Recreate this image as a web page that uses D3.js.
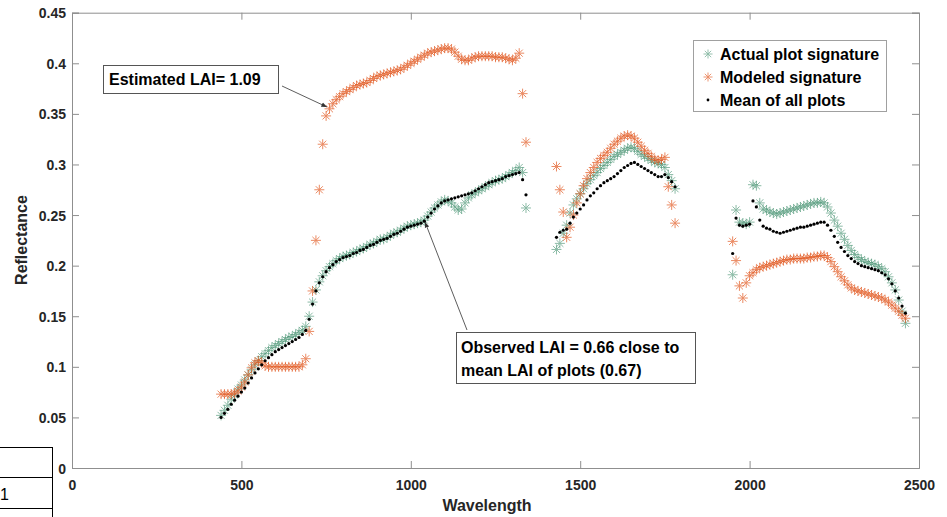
<!DOCTYPE html>
<html>
<head>
<meta charset="utf-8">
<script src="https://cdn.jsdelivr.net/npm/d3@7"></script>
<style>
  body { margin: 0; background: #fff; }
  svg { font-family: "Liberation Sans", Arial, sans-serif; }
</style>
</head>
<body>
<div id="chart"></div>
<script>
// Spectral signatures, three bands kept apart (water absorption gaps)
const wl1 = d3.range(440, 1341, 10);
const wl2 = d3.range(1430, 1781, 10);
const wl3 = d3.range(1950, 2461, 10);

const actual1 = [.052,.057,.062,.068,.072,.078,.082,.087,.092,.097,
  .102,.106,.110,.113,.116,.119,.121,.123,.125,.127,
  .129,.130,.132,.134,.136,.140,.150,.164,.176,.184,
  .190,.195,.199,.202,.205,.207,.209,.210,.211,.213,
  .214,.216,.217,.219,.221,.222,.224,.226,.226,.228,
  .230,.232,.233,.235,.237,.239,.240,.241,.242,.243,
  .245,.249,.253,.257,.260,.263,.265,.264,.262,.258,
  .255,.256,.262,.267,.270,.272,.274,.276,.278,.280,
  .282,.284,.285,.286,.288,.290,.292,.294,.297,.292,
  .257];
const modeled1 = [.073,.073,.073,.073,.074,.076,.080,.085,.092,.099,
  .104,.106,.104,.101,.100,.100,.100,.100,.100,.100,
  .100,.100,.100,.100,.102,.108,.135,.175,.225,.275,
  .320,.348,.355,.360,.364,.367,.370,.372,.374,.376,
  .378,.379,.380,.381,.383,.385,.387,.388,.389,.390,
  .391,.392,.393,.394,.396,.398,.400,.402,.404,.406,
  .408,.410,.411,.412,.413,.414,.415,.415,.414,.411,
  .407,.404,.403,.403,.405,.406,.407,.407,.407,.407,
  .407,.406,.406,.406,.405,.404,.403,.405,.410,.370,
  .322];
const mean1 = [.050,.054,.058,.063,.067,.071,.075,.079,.084,.089,
  .094,.098,.102,.106,.109,.112,.115,.117,.119,.121,
  .123,.125,.127,.129,.132,.136,.147,.162,.175,.183,
  .189,.194,.198,.201,.204,.206,.208,.209,.210,.212,
  .213,.215,.216,.218,.220,.221,.223,.225,.226,.227,
  .229,.231,.232,.234,.236,.238,.239,.240,.241,.242,
  .244,.248,.252,.256,.259,.262,.264,.265,.266,.267,
  .268,.269,.270,.271,.272,.274,.276,.278,.280,.282,
  .283,.284,.285,.286,.288,.289,.290,.291,.292,.285,
  .270];

const actual2 = [.216,.222,.232,.240,.252,.260,.266,.271,.276,.281,
  .285,.289,.292,.296,.299,.302,.305,.308,.310,.312,
  .314,.316,.317,.316,.313,.310,.308,.306,.304,.302,
  .301,.300,.297,.290,.284,.276];
const modeled2 = [.298,.275,.253,.228,.238,.250,.262,.271,.279,.286,
  .292,.297,.302,.306,.309,.312,.316,.320,.323,.326,
  .328,.329,.328,.326,.322,.318,.314,.311,.308,.305,
  .304,.305,.307,.278,.260,.242];
const mean2 = [.228,.233,.235,.236,.242,.248,.252,.256,.260,.265,
  .269,.272,.276,.279,.282,.284,.286,.288,.291,.294,
  .297,.299,.301,.302,.300,.298,.296,.294,.292,.290,
  .288,.288,.290,.287,.283,.278];

const actual3 = [.191,.255,.243,.242,.241,.243,.280,.279,.262,.256,
  .255,.253,.252,.251,.252,.253,.254,.255,.256,.257,
  .258,.259,.260,.261,.262,.262,.263,.262,.258,.252,
  .245,.239,.232,.226,.220,.215,.211,.208,.206,.204,
  .203,.202,.201,.199,.197,.194,.189,.183,.176,.166,
  .155,.143];
const modeled3 = [.224,.205,.180,.168,.183,.190,.193,.196,.198,.199,
  .200,.201,.202,.203,.204,.205,.206,.206,.207,.207,
  .207,.207,.208,.208,.209,.209,.210,.210,.208,.204,
  .199,.194,.189,.185,.181,.178,.176,.175,.174,.173,
  .172,.171,.170,.169,.168,.166,.164,.161,.158,.155,
  .151,.148];
const mean3 = [.212,.247,.240,.239,.240,.241,.264,.258,.245,.239,
  .237,.236,.234,.233,.232,.233,.234,.235,.236,.237,
  .238,.238,.239,.240,.241,.242,.243,.243,.240,.235,
  .229,.223,.218,.214,.210,.207,.204,.202,.200,.199,
  .198,.197,.196,.195,.193,.191,.187,.182,.175,.168,
  .160,.153];

const xTicks = [0, 500, 1000, 1500, 2000, 2500];
const yTicks = [0, 0.05, 0.1, 0.15, 0.2, 0.25, 0.3, 0.35, 0.4, 0.45];
const legendNames = ['Actual plot signature', 'Modeled signature', 'Mean of all plots'];

const width = 947, height = 517;
const clrGreen = '#3f8f6c', clrOrange = '#e35a22', clrAxis = '#8f8f8f', clrText = '#262626';

let svg = d3.select('#chart').append('svg')
    .attr('width', width)
    .attr('height', height);

let x = d3.scaleLinear().domain([0, 2500]).range([72, 919]);
let y = d3.scaleLinear().domain([0, 0.45]).range([468, 12.7]);

function pts(wl, vals){ return wl.map((w,i)=>({w:w, v:vals[i]})); }
let dtActual = pts(wl1,actual1).concat(pts(wl2,actual2), pts(wl3,actual3));
let dtModeled = pts(wl1,modeled1).concat(pts(wl2,modeled2), pts(wl3,modeled3));
let dtMean = pts(wl1,mean1).concat(pts(wl2,mean2), pts(wl3,mean3));

// asterisk marker like matlab '*'
function star(r){
    let a = r*0.707;
    return `M${-r},0H${r}M0,${-r}V${r}M${-a},${-a}L${a},${a}M${-a},${a}L${a},${-a}`;
}

// table fragment at the lower left corner
let tbl = svg.append('g').attr('stroke','#000').attr('stroke-width',1);
tbl.append('line').attr('x1',52.5).attr('x2',52.5).attr('y1',447).attr('y2',517);
[447.5, 477.5, 508.5].forEach(v=>{
    tbl.append('line').attr('x1',0).attr('x2',52.5).attr('y1',v).attr('y2',v);
});
svg.append('text').attr('x',0).attr('y',500).attr('font-size',16)
    .attr('fill','#000').text('1');

// box + axes
svg.append('rect').attr('x',72).attr('y',12.7).attr('width',847).attr('height',455.3)
    .attr('fill','#fff');

let gx = svg.append('g').attr('transform','translate(0,468)')
    .call(d3.axisBottom(x).tickValues(xTicks).tickSize(-7).tickPadding(12).tickFormat(d3.format('d')));
let gxt = svg.append('g').attr('transform','translate(0,12.7)')
    .call(d3.axisTop(x).tickValues(xTicks).tickSize(-7).tickFormat(''));
let gy = svg.append('g').attr('transform','translate(72,0)')
    .call(d3.axisLeft(y).tickValues(yTicks).tickSize(-7).tickPadding(6).tickFormat(d=>d3.format('')(+d.toFixed(2))));
let gyr = svg.append('g').attr('transform','translate(919,0)')
    .call(d3.axisRight(y).tickValues(yTicks).tickSize(-7).tickFormat(''));

[gx,gxt,gy,gyr].forEach(g=>{
    g.selectAll('path,line').attr('stroke',clrAxis);
    g.selectAll('text').attr('fill',clrText).attr('font-size',14).attr('font-weight','bold')
        .attr('font-family','"Liberation Sans", Arial, sans-serif');
});
gy.selectAll('text').attr('dy','0.36em');

svg.append('text').attr('x',487).attr('y',511).attr('text-anchor','middle')
    .attr('font-size',16).attr('font-weight','bold').attr('fill',clrText).text('Wavelength');
svg.append('text').attr('transform','translate(27,240) rotate(-90)').attr('text-anchor','middle')
    .attr('font-size',16).attr('font-weight','bold').attr('fill',clrText).text('Reflectance');

// data
let plot = svg.append('g');
plot.append('g').selectAll('path').data(dtActual).enter().append('path')
    .attr('transform',d=>`translate(${x(d.w)},${y(d.v)})`)
    .attr('d',star(5)).attr('stroke',clrGreen).attr('stroke-width',1).attr('opacity',0.6);
plot.append('g').selectAll('path').data(dtModeled).enter().append('path')
    .attr('transform',d=>`translate(${x(d.w)},${y(d.v)})`)
    .attr('d',star(5)).attr('stroke',clrOrange).attr('stroke-width',1).attr('opacity',0.7);
plot.append('g').selectAll('circle').data(dtMean).enter().append('circle')
    .attr('cx',d=>x(d.w)).attr('cy',d=>y(d.v)).attr('r',1.6).attr('fill','#000');

// annotations
svg.append('defs').append('marker').attr('id','arr')
    .attr('viewBox','0 0 10 10').attr('refX',10).attr('refY',5)
    .attr('markerWidth',7).attr('markerHeight',7).attr('orient','auto')
    .append('path').attr('d','M0,1L10,5L0,9z').attr('fill','#333');

svg.append('line').attr('x1',282).attr('y1',86).attr('x2',327).attr('y2',107)
    .attr('stroke','#333').attr('stroke-width',0.8).attr('marker-end','url(#arr)');
svg.append('line').attr('x1',467).attr('y1',330).attr('x2',425).attr('y2',222)
    .attr('stroke','#333').attr('stroke-width',0.8).attr('marker-end','url(#arr)');

svg.append('rect').attr('x',103.5).attr('y',65.5).attr('width',175).attr('height',28)
    .attr('fill','#fff').attr('stroke','#555');
svg.append('text').attr('x',109).attr('y',85).attr('font-size',16).attr('font-weight','bold')
    .attr('fill','#000').text('Estimated LAI= 1.09');

svg.append('rect').attr('x',456.5).attr('y',332.5).attr('width',239).attr('height',51)
    .attr('fill','#fff').attr('stroke','#555');
svg.append('text').attr('x',461).attr('y',353).attr('font-size',16).attr('font-weight','bold')
    .attr('fill','#000').text('Observed LAI = 0.66 close to');
svg.append('text').attr('x',461).attr('y',376).attr('font-size',16).attr('font-weight','bold')
    .attr('fill','#000').text('mean LAI of plots (0.67)');

// legend
let lg = svg.append('g');
lg.append('rect').attr('x',693.5).attr('y',40.5).attr('width',193).attr('height',71)
    .attr('fill','#fff').attr('stroke','#a0a0a0');
let rows = lg.selectAll('g.row').data(legendNames).enter().append('g')
    .attr('transform',(d,i)=>`translate(708,${54+i*23})`);
rows.append('text').attr('x',12).attr('y',6).attr('font-size',16).attr('font-weight','bold')
    .attr('fill','#000').text(d=>d);
rows.filter((d,i)=>i==0).append('path').attr('d',star(4.5)).attr('stroke',clrGreen)
    .attr('stroke-width',0.9).attr('opacity',0.6);
rows.filter((d,i)=>i==1).append('path').attr('d',star(4.5)).attr('stroke',clrOrange)
    .attr('stroke-width',0.9).attr('opacity',0.7);
rows.filter((d,i)=>i==2).append('circle').attr('r',1.4).attr('fill','#000');
</script>
</body>
</html>
